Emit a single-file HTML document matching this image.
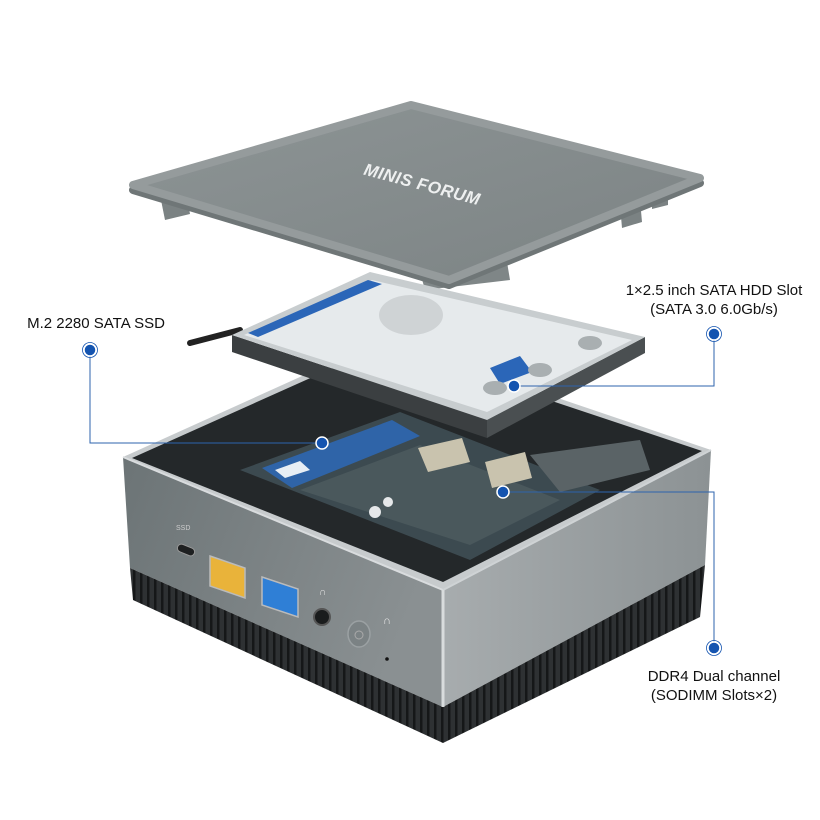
<!DOCTYPE html>
<html><head><meta charset="utf-8"><style>
html,body{margin:0;padding:0;background:#fff}
svg{display:block}
text{font-family:"Liberation Sans",sans-serif}
</style></head><body>
<svg width="820" height="820" viewBox="0 0 820 820" xmlns="http://www.w3.org/2000/svg">
<defs>
<linearGradient id="lf" x1="0" y1="0" x2="1" y2="0.3"><stop offset="0" stop-color="#6c7476"/><stop offset="1" stop-color="#8a9092"/></linearGradient>
<linearGradient id="rf" x1="0" y1="0" x2="1" y2="0"><stop offset="0" stop-color="#a7acae"/><stop offset="1" stop-color="#8c9294"/></linearGradient>
<linearGradient id="lid" x1="0" y1="0" x2="1" y2="1"><stop offset="0" stop-color="#8d9495"/><stop offset="1" stop-color="#7c8384"/></linearGradient>
<pattern id="vent" width="7" height="10" patternUnits="userSpaceOnUse"><rect width="7" height="10" fill="#2e3133"/><rect x="0" width="2.5" height="10" fill="#151718"/></pattern>
</defs>

<!-- Lid -->
<polygon points="160,195 185,188 190,214 165,220" fill="#7b8283"/>
<polygon points="620,205 640,200 642,222 622,228" fill="#7b8283"/>
<polygon points="652,195 668,191 668,205 652,209" fill="#7b8283"/>
<polygon points="420,272 505,250 510,280 425,290" fill="#7f8687"/>
<polygon points="133,185 411,105 700,178 449,280" fill="#6f7677" stroke="#6f7677" stroke-width="8" stroke-linejoin="round" transform="translate(0,5)"/>
<polygon points="133,185 411,105 700,178 449,280" fill="url(#lid)" stroke="#959b9c" stroke-width="8" stroke-linejoin="round"/>
<text x="422" y="190" transform="rotate(15 422 185)" text-anchor="middle" font-size="17" font-weight="bold" font-style="italic" fill="#eef0f0" letter-spacing="0.5">MINIS FORUM</text>

<!-- Box top face -->
<polygon points="123,457 384,339 711,450 443,590" fill="#c7cbcd"/>
<polygon points="132,458 384,345 702,451 443,582" fill="#24282a"/>
<!-- PCB -->
<polygon points="240,470 400,412 600,490 470,560" fill="#3c4a50"/>
<polygon points="300,490 420,445 560,500 470,545" fill="#4a585c"/>
<!-- SSD -->
<polygon points="262,468 392,420 420,436 292,488" fill="#2f64a8"/>
<polygon points="275,470 300,461 310,470 285,478" fill="#e8eef4"/>
<!-- RAM chips -->
<polygon points="418,448 462,438 470,462 428,472" fill="#c9c3ae"/>
<polygon points="485,462 525,452 532,478 492,488" fill="#c9c3ae"/>
<polygon points="530,455 640,440 650,470 560,492" fill="#5a6366"/>
<circle cx="375" cy="512" r="6" fill="#e6e8ea"/>
<circle cx="388" cy="502" r="5" fill="#e6e8ea"/>

<!-- HDD -->
<polygon points="232,335 487,420 487,438 232,352" fill="#3b3f41"/>
<polygon points="487,420 645,337 645,353 487,438" fill="#4a4f51"/>
<line x1="190" y1="343" x2="240" y2="330" stroke="#222" stroke-width="6" stroke-linecap="round"/>
<polygon points="232,335 370,272 645,337 487,420" fill="#c8cdcf"/>
<polygon points="244,335 372,280 632,340 487,412" fill="#e6eaec"/>
<polygon points="248,333 368,280 382,284 258,337" fill="#2b66b8"/>
<ellipse cx="411" cy="315" rx="32" ry="20" fill="#cfd3d5"/>
<polygon points="490,368 520,356 532,372 500,384" fill="#2b66b8"/>
<ellipse cx="495" cy="388" rx="12" ry="7" fill="#a9afb1"/>
<ellipse cx="540" cy="370" rx="12" ry="7" fill="#a9afb1"/>
<ellipse cx="590" cy="343" rx="12" ry="7" fill="#a9afb1"/>

<!-- Left face -->
<polygon points="123,457 443,590 443,707 130,568" fill="url(#lf)"/>
<line x1="123" y1="457" x2="443" y2="590" stroke="#d9dcde" stroke-width="2"/>
<polygon points="130,568 443,707 443,743 133,600" fill="url(#vent)"/>
<!-- Right face -->
<polygon points="443,590 711,450 705,565 443,707" fill="url(#rf)"/>
<line x1="443" y1="590" x2="711" y2="450" stroke="#cfd3d5" stroke-width="2"/>
<polygon points="443,707 705,565 700,617 443,743" fill="url(#vent)"/>
<line x1="443" y1="590" x2="443" y2="707" stroke="#d8dcdd" stroke-width="3"/>

<!-- Ports -->
<rect x="177" y="546" width="18" height="8" rx="4" fill="#1e2021" stroke="#999" transform="rotate(22 186 550)"/>
<polygon points="210,556 245,568 245,598 210,586" fill="#e9b33a" stroke="#bbb" stroke-width="1.5"/>
<polygon points="262,577 298,589 298,617 262,605" fill="#2f7fd6" stroke="#bbb" stroke-width="1.5"/>
<circle cx="322" cy="617" r="8" fill="#1a1c1d" stroke="#555" stroke-width="2"/>
<text x="319" y="595" font-size="10" fill="#e0e0e0">∩</text>
<ellipse cx="359" cy="634" rx="11" ry="13" fill="#7b8284" stroke="#9ba1a3" stroke-width="1.5"/>
<circle cx="359" cy="635" r="4" fill="none" stroke="#aaa" stroke-width="1"/>
<text x="383" y="624" font-size="11" fill="#e8e8e8">∩</text>
<circle cx="387" cy="659" r="1.8" fill="#111"/>
<text x="176" y="530" font-size="7" fill="#ccc">SSD</text>

<!-- Leader lines -->
<g stroke="#2d63ad" stroke-width="1" fill="none">
<polyline points="90,350 90,443 322,443"/>
<polyline points="714,334 714,386 514,386"/>
<polyline points="714,648 714,492 503,492"/>
</g>
<g fill="#1454b0" stroke="#fff" stroke-width="1.5">
<circle cx="90" cy="350" r="6"/><circle cx="714" cy="334" r="6"/><circle cx="714" cy="648" r="6"/>
<circle cx="514" cy="386" r="6"/><circle cx="503" cy="492" r="6"/><circle cx="322" cy="443" r="6"/>
</g>
<g fill="none" stroke="#1454b0" stroke-width="0.8">
<circle cx="90" cy="350" r="7.5"/><circle cx="714" cy="334" r="7.5"/><circle cx="714" cy="648" r="7.5"/>
</g>

<!-- Labels -->
<g font-size="15" fill="#111" text-anchor="middle">
<text x="96" y="328">M.2 2280 SATA SSD</text>
<text x="714" y="295">1×2.5 inch SATA HDD Slot</text>
<text x="714" y="314">(SATA 3.0 6.0Gb/s)</text>
<text x="714" y="681">DDR4 Dual channel</text>
<text x="714" y="700">(SODIMM Slots×2)</text>
</g>
</svg>
</body></html>
